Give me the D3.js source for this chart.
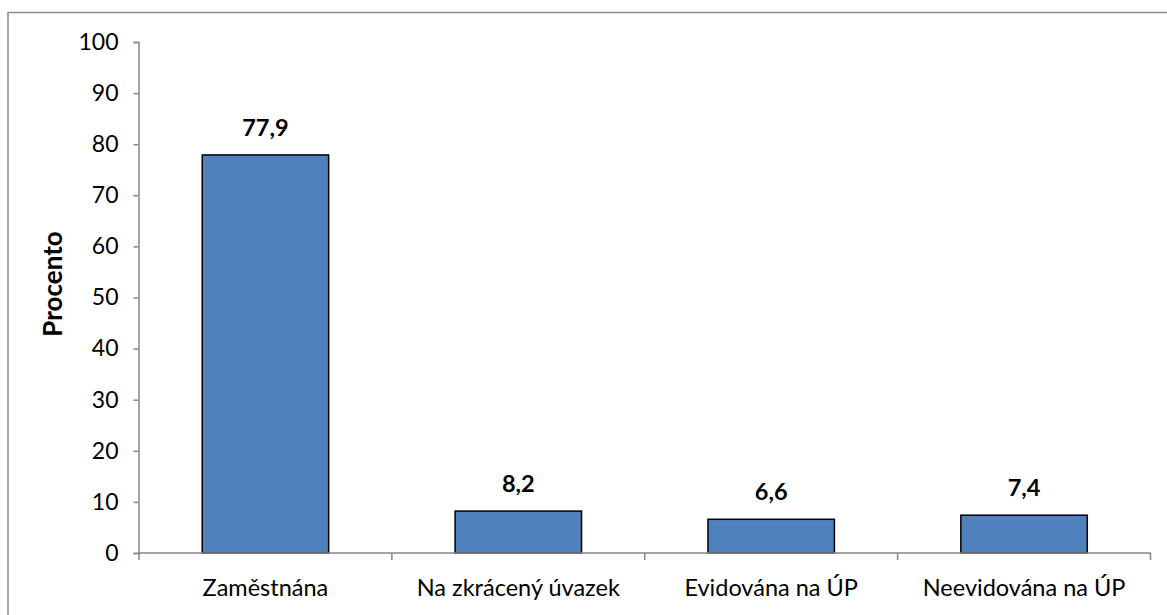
<!DOCTYPE html>
<html>
<head>
<meta charset="utf-8">
<script src="https://cdn.jsdelivr.net/npm/d3@7"></script>
<style>
  html, body { margin: 0; padding: 0; background: #fff; }
  svg { display: block; }
  text { font-family: Lato, "Open Sans", sans-serif; fill: #000; }
</style>
</head>
<body>
<svg id="chart" width="1167" height="615"></svg>
<script>
const categories = ["Zaměstnána", "Na zkrácený úvazek", "Evidována na ÚP", "Neevidována na ÚP"];
const values = [77.9, 8.2, 6.6, 7.4];
const valueLabels = ["77,9", "8,2", "6,6", "7,4"];
const yTicks = [0, 10, 20, 30, 40, 50, 60, 70, 80, 90, 100];
const yTitle = "Procento";

const svg = d3.select("#chart");
const plot = { left: 139, right: 1150.5, top: 42, bottom: 553 };

// outer border
svg.append("rect")
  .attr("x", 8).attr("y", 12.5)
  .attr("width", 1200).attr("height", 700)
  .attr("fill", "none").attr("stroke", "#8c8c8c").attr("stroke-width", 1.5);

const x = d3.scaleBand().domain(categories).range([plot.left, plot.right]).paddingInner(0.5).paddingOuter(0.25);
const y = d3.scaleLinear().domain([0, 100]).range([plot.bottom, plot.top]);

const axisColor = "#868686";

// y axis
const yAxis = svg.append("g")
  .attr("transform", `translate(${plot.left - 0.5},0)`)
  .call(d3.axisLeft(y).tickValues(yTicks).tickSize(5).tickPadding(15).tickFormat(d3.format("d")));
yAxis.select(".domain").attr("stroke", axisColor).attr("stroke-width", 1.5);
yAxis.selectAll(".tick line").attr("stroke", axisColor).attr("stroke-width", 1.5);
yAxis.selectAll(".tick text").attr("font-size", 23).attr("font-family", "Lato, sans-serif").attr("fill", "#000");

// bars
svg.append("g").selectAll("rect")
  .data(values)
  .join("rect")
  .attr("x", (d, i) => x(categories[i]))
  .attr("y", d => y(d))
  .attr("width", x.bandwidth())
  .attr("height", d => y(0) - y(d))
  .attr("fill", "#4f81bd")
  .attr("stroke", "#000")
  .attr("stroke-width", 1.5);

// x axis
const step = (plot.right - plot.left) / categories.length;
const xAxisG = svg.append("g");
xAxisG.append("line")
  .attr("x1", plot.left - 0.5).attr("x2", plot.right)
  .attr("y1", plot.bottom).attr("y2", plot.bottom)
  .attr("stroke", axisColor).attr("stroke-width", 1.5);
const boundaries = d3.range(categories.length + 1).map(i => plot.left + i * step);
xAxisG.selectAll("line.tk").data(boundaries).join("line")
  .attr("class", "tk")
  .attr("x1", d => d).attr("x2", d => d)
  .attr("y1", plot.bottom).attr("y2", plot.bottom + 7)
  .attr("stroke", axisColor).attr("stroke-width", 1.5);
xAxisG.selectAll("text").data(categories).join("text")
  .attr("x", d => x(d) + x.bandwidth() / 2)
  .attr("y", 596)
  .attr("text-anchor", "middle")
  .attr("font-size", 23.5)
  .text(d => d);

// value labels
svg.append("g").selectAll("text")
  .data(values)
  .join("text")
  .attr("x", (d, i) => x(categories[i]) + x.bandwidth() / 2)
  .attr("y", d => y(d) - 19)
  .attr("text-anchor", "middle")
  .attr("font-size", 23.5)
  .attr("font-weight", "bold")
  .text((d, i) => valueLabels[i]);

// y title
svg.append("text")
  .attr("transform", `translate(62,284) rotate(-90)`)
  .attr("text-anchor", "middle")
  .attr("font-size", 26)
  .attr("font-weight", "bold")
  .text(yTitle);
</script>
</body>
</html>
